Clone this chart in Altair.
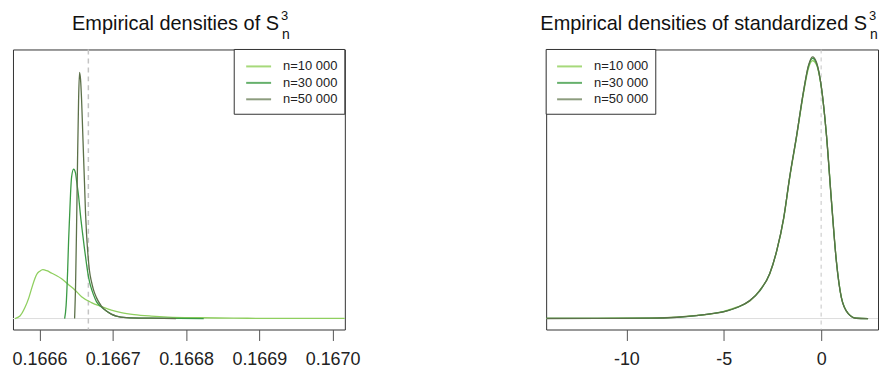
import altair as alt
import pandas as pd

FONT = "Liberation Sans"
series = ["n=10 000", "n=30 000", "n=50 000"]
line_colors = ["#8fcf5f", "#3a9a44", "#5c7049"]
legend_colors = ["#a6d97a", "#66b06c", "#8c9c7e"]

# ---- left panel: empirical densities of S_n^3 ----
left_x10 = [0.1665665, 0.1665733, 0.1665801, 0.1665855, 0.1665896, 0.1665936, 0.1665963,
            0.1666004, 0.1666045, 0.1666099, 0.1666167, 0.1666235, 0.1666302, 0.1666397,
            0.1666479, 0.1666574, 0.1666709, 0.1666845, 0.1666980, 0.1667116, 0.1667292,
            0.1667523, 0.1667753, 0.1668201, 0.1668648, 0.1669150, 0.1670167]
left_d10 = [0, 960, 4230, 8080, 11920, 15380, 17110, 18270, 18850, 18460, 17500, 16540,
            15380, 13080, 11150, 8460, 6150, 4620, 3270, 2310, 1540, 960, 580, 310, 150, 80, 30]
left_x30 = [0.1666343, 0.1666363, 0.1666384, 0.1666397, 0.1666411, 0.1666424, 0.1666438,
            0.1666465, 0.1666492, 0.1666506, 0.1666533, 0.1666560, 0.1666587, 0.1666614,
            0.1666641, 0.1666668, 0.1666696, 0.1666736, 0.1666777, 0.1666845, 0.1666913,
            0.1666980, 0.1667048, 0.1667184, 0.1667523, 0.1668241]
left_d30 = [0, 5000, 18460, 30000, 39620, 48460, 54620, 57690, 56150, 53080, 47310, 39620,
            33080, 26920, 21150, 16150, 12690, 9230, 6540, 4420, 2880, 1730, 960, 380, 150, 0]
left_x50 = [0.1666479, 0.1666492, 0.1666506, 0.1666519, 0.1666533, 0.1666546, 0.1666560,
            0.1666574, 0.1666587, 0.1666601, 0.1666614, 0.1666628, 0.1666641, 0.1666655,
            0.1666682, 0.1666709, 0.1666736, 0.1666777, 0.1666845, 0.1666913, 0.1666980,
            0.1667048, 0.1667184, 0.1667523, 0.1667862]
left_d50 = [0, 12690, 35770, 60770, 83850, 95000, 92310, 84620, 74230, 62690, 52310, 40770,
            33080, 26920, 18460, 14230, 11150, 8080, 4810, 2880, 1730, 960, 380, 150, 0]
left_ticks = [0.1666, 0.1667, 0.1668, 0.1669, 0.1670]
left_ref = 1 / 6

# ---- right panel: standardized ----
right_x = [-14.1, -11.5, -8.8, -7.4, -6.4, -5.7, -5.0, -4.3, -3.66, -3.15, -2.64, -2.28,
           -1.92, -1.62, -1.26, -0.90, -0.65, -0.44, -0.24, 0.02, 0.27, 0.53, 0.78, 1.04,
           1.39, 1.80, 2.41]
right_d10 = [0.0002, 0.0005, 0.0010, 0.0028, 0.0062, 0.0086, 0.0140, 0.0225, 0.0340, 0.0550,
             0.0860, 0.1300, 0.1930, 0.2700, 0.3500, 0.4360, 0.4830, 0.4975, 0.4900, 0.4430,
             0.3560, 0.2280, 0.1130, 0.0410, 0.0100, 0.0007, 0.0]
right_d30 = [0.0002, 0.0004, 0.0008, 0.0024, 0.0057, 0.0092, 0.0133, 0.0213, 0.0350, 0.0535,
             0.0868, 0.1310, 0.1945, 0.2715, 0.3525, 0.4390, 0.4870, 0.5020, 0.4925, 0.4440,
             0.3555, 0.2265, 0.1112, 0.0402, 0.0095, 0.0006, 0.0]
right_d50 = [0.0001, 0.0004, 0.0007, 0.0025, 0.0056, 0.0090, 0.0131, 0.0218, 0.0346, 0.0540,
             0.0866, 0.1312, 0.1948, 0.2720, 0.3530, 0.4400, 0.4885, 0.5050, 0.4945, 0.4445,
             0.3550, 0.2260, 0.1110, 0.0400, 0.0094, 0.0006, 0.0]
right_ticks = [-10, -5, 0]
right_ref = 0


def frame(xs, ds):
    rows = []
    for s, x, d in zip(series, xs, ds):
        for a, b in zip(x, d):
            rows.append({"series": s, "v": a, "dens": b})
    return pd.DataFrame(rows)


left_df = frame([left_x10, left_x30, left_x50], [left_d10, left_d30, left_d50])
right_df = frame([right_x] * 3, [right_d10, right_d30, right_d50])
one = pd.DataFrame({"k": [0]})

W, H = 333, 281


def panel(df, xdom, ydom, ticks, ref, xaxis_kw, title_main, title_end, leg_x0, leg_x1,
          line_x0, line_x1, text_x, ref_width, ref_dash):
    xs = alt.Scale(domain=xdom, nice=False, zero=False)
    ys = alt.Scale(domain=ydom, nice=False, zero=False)
    axis = alt.Axis(values=ticks, title=None, grid=False, domain=False, tickSize=11,
                    tickColor="#555", tickWidth=1, labelFontSize=18, labelFont=FONT,
                    labelColor="#222", labelPadding=10, labelFlush=False,
                    labelOverlap=False, **xaxis_kw)
    base_rule = alt.Chart(one).mark_rule(color="#dddddd", strokeWidth=1).encode(
        y=alt.Y("z:Q", scale=ys, axis=None)
    ).transform_calculate(z="0")
    ref_rule = alt.Chart(one).mark_rule(color="#c4c4c4", strokeWidth=ref_width,
                                        strokeDash=ref_dash).encode(
        x=alt.datum(ref, scale=xs, axis=axis)
    )
    lines = alt.Chart(df).mark_line(strokeWidth=1.3, clip=True, interpolate="monotone").encode(
        x=alt.X("v:Q", scale=xs, axis=axis),
        y=alt.Y("dens:Q", scale=ys, axis=None),
        color=alt.Color("series:N", scale=alt.Scale(domain=series, range=line_colors),
                        legend=None),
        detail="series:N",
    )
    box = alt.Chart(one).mark_rect(fill="white", stroke="#333", strokeWidth=1).encode(
        x=alt.value(leg_x0), x2=alt.value(leg_x1), y=alt.value(0), y2=alt.value(65)
    )
    layers = [base_rule, ref_rule, lines, box]
    for i, s in enumerate(series):
        yy = 17 + 16.5 * i
        layers.append(alt.Chart(one).mark_rule(color=legend_colors[i], strokeWidth=2).encode(
            x=alt.value(line_x0), x2=alt.value(line_x1), y=alt.value(yy)))
        layers.append(alt.Chart(one).mark_text(text=s, align="left", baseline="middle",
                                               font=FONT, fontSize=13, color="#222").encode(
            x=alt.value(text_x), y=alt.value(yy)))
    layers.append(alt.Chart(one).mark_text(text=title_main, align="right", baseline="alphabetic",
                                           font=FONT, fontSize=20, color="#111").encode(
        x=alt.value(title_end), y=alt.value(-20)))
    layers.append(alt.Chart(one).mark_text(text="3", align="left", baseline="alphabetic",
                                           font=FONT, fontSize=13, color="#111").encode(
        x=alt.value(title_end + 2), y=alt.value(-30)))
    layers.append(alt.Chart(one).mark_text(text="n", align="left", baseline="alphabetic",
                                           font=FONT, fontSize=14, color="#111").encode(
        x=alt.value(title_end + 3), y=alt.value(-11)))
    return alt.layer(*layers).properties(width=W, height=H)


left = panel(left_df, [0.1665638, 0.1670167], [-4231, 103846], left_ticks, left_ref,
             {"format": ".4f"}, "Empirical densities of S", 267, 222, 333, 234, 259, 271,
             1.5, [5, 4])
right = panel(right_df, [-14.12, 2.92], [-0.02115, 0.5192], right_ticks, right_ref,
              {"labelExpr": "toString(datum.value)"}, "Empirical densities of standardized S",
              322, 0, 110, 11, 36, 48, 1, [4, 4])

chart = alt.hconcat(left, right, spacing=202, bounds="flush").properties(
    padding={"left": 3, "top": 0, "right": 0, "bottom": 0}
).configure_view(stroke="#333", strokeWidth=1)

chart.save("out.html", embed_options={"renderer": "svg", "actions": False})
